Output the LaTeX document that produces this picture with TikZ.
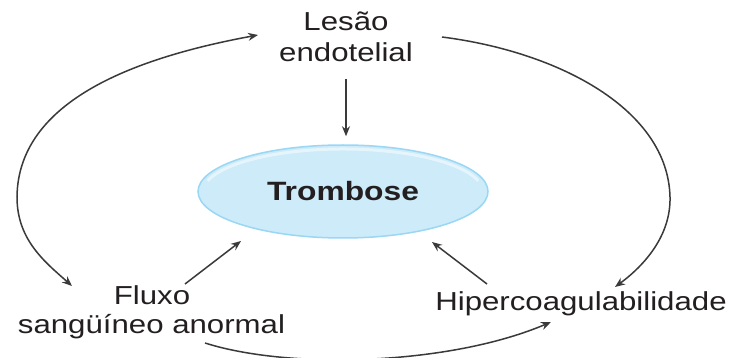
\documentclass[tikz,border=0pt]{standalone}
\usepackage{fontspec}
\setmainfont{Liberation Sans}
\newfontfamily\labfont[FakeStretch=1.2]{Liberation Sans}
\usetikzlibrary{arrows.meta,shapes.geometric}
\definecolor{txt}{HTML}{231F20}
\definecolor{ln}{HTML}{3A3A3A}
\definecolor{efill}{HTML}{CDEBF9}
\definecolor{edraw}{HTML}{9AD7F5}
\begin{document}
\begin{tikzpicture}[x=1pt,y=-1pt,
  lab/.style={inner sep=0pt,anchor=base,text=txt,font=\labfont\fontsize{26}{31}\selectfont},
  conn/.style={draw=ln,line width=1.5pt,-{Stealth[length=10pt,width=8pt]}},
  conn2/.style={draw=ln,line width=1.5pt,{Stealth[length=10pt,width=8pt]}-{Stealth[length=10pt,width=8pt]}},
  oval/.style={ellipse,draw=edraw,line width=1.5pt,fill=efill,minimum width=290pt,minimum height=93pt,inner sep=0pt,text=txt,font=\labfont\bfseries\fontsize{26.5}{30}\selectfont}]
\useasboundingbox (0,0) rectangle (734,358);
\clip (0,0) rectangle (734,358);
\fill[white] (0,0) rectangle (734,358);

% central ellipse
\node[oval] (tromb) at (343,191.5) {Trombose};
\draw[white,line width=3pt,opacity=0.5] (343,192) ++(195:140 and 43) arc[start angle=195,end angle=345,x radius=140,y radius=43];

% labels
\node[lab] (les1) at (346,31) {Lesão};
\node[lab] (les2) at (346,62) {endotelial};
\node[lab] (flu1) at (152,305) {Fluxo};
\node[lab] (flu2) at (151.5,334) {sangüíneo anormal};
\node[lab] (hip) at (581,311) {Hipercoagulabilidade};

% connector end points
\coordinate (f0) at (185,284);
\coordinate (f1) at (241,241);
\coordinate (h0) at (487,284);
\coordinate (h1) at (432,242);
\coordinate (lA) at (258,35);
\coordinate (lB) at (72,286);
\coordinate (rA) at (442,37);
\coordinate (rB) at (615,287);
\coordinate (bA) at (205,343);
\coordinate (bB) at (551,322);

% straight connectors
\draw[conn] ([yshift=-17pt]les2.south) -- ([yshift=8pt]les2.south |- tromb.north);
\draw[conn] (f0) -- (f1);
\draw[conn] (h0) -- (h1);

% curved connectors
\draw[conn2] (lA) .. controls (150,55) and (18,95) .. (17,197) .. controls (17,240) and (45,262) .. (lB);
\draw[conn] (rA) .. controls (560,52) and (668,110) .. (670,197) .. controls (671,235) and (645,265) .. (rB);
\draw[conn] (bA) .. controls (290,370) and (450,365) .. (bB);
\end{tikzpicture}
\end{document}
